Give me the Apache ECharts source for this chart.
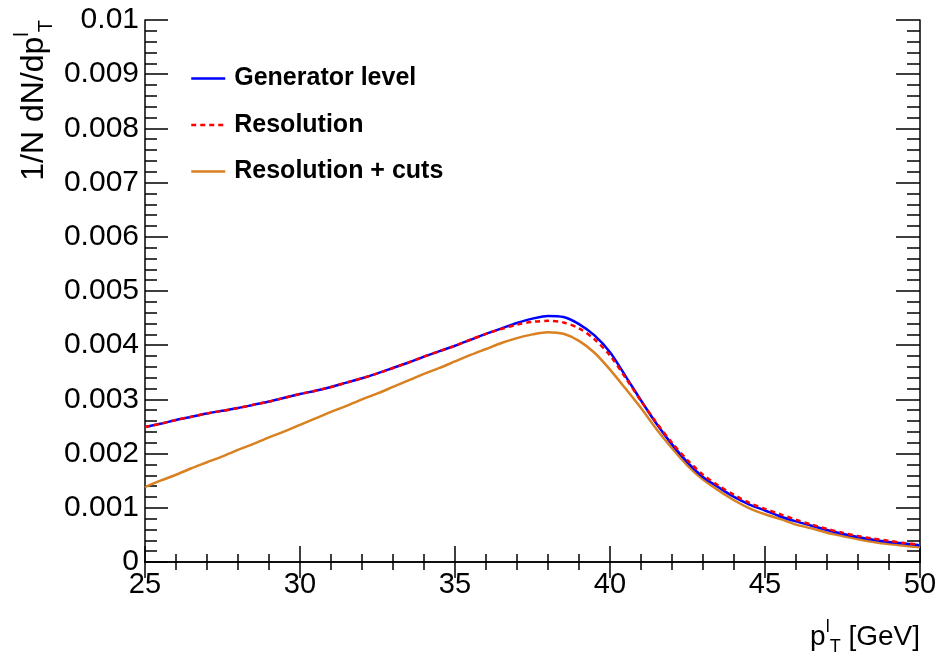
<!DOCTYPE html>
<html>
<head>
<meta charset="utf-8">
<script src="https://cdn.jsdelivr.net/npm/echarts@6/dist/echarts.min.js"></script>
<style>html,body{margin:0;padding:0;background:#fff;}#c{width:939px;height:659px;}</style>
</head>
<body>
<div id="c"></div>
<script>
const pT = [25,25.5,26,26.5,27,27.5,28,28.5,29,29.5,30,30.5,31,31.5,32,32.5,33,33.5,34,34.5,35,35.5,36,36.5,37,37.5,38,38.5,39,39.5,40,40.5,41,41.5,42,42.5,43,43.5,44,44.5,45,45.5,46,46.5,47,47.5,48,48.5,49,49.5,50];
const generatorLevel = [0.00249,0.00255,0.00262,0.00268,0.00274,0.00279,0.00284,0.00290,0.00296,0.00303,0.00310,0.00316,0.00323,0.00331,0.00339,0.00348,0.00358,0.00368,0.00379,0.00389,0.00399,0.00410,0.00421,0.00431,0.00441,0.00449,0.00454,0.00452,0.00439,0.00418,0.00387,0.00343,0.00298,0.00255,0.00217,0.00184,0.00157,0.00138,0.00120,0.00106,0.00095,0.00084,0.00075,0.00067,0.00059,0.00052,0.00046,0.00041,0.00037,0.00034,0.00031];
const resolution = [0.00249,0.00255,0.00262,0.00268,0.00274,0.00279,0.00284,0.00290,0.00296,0.00303,0.00310,0.00316,0.00323,0.00331,0.00339,0.00348,0.00358,0.00368,0.00379,0.00389,0.00399,0.00410,0.00421,0.00430,0.00438,0.00443,0.00445,0.00442,0.00431,0.00411,0.00381,0.00340,0.00297,0.00257,0.00220,0.00188,0.00161,0.00141,0.00124,0.00109,0.00098,0.00088,0.00078,0.00069,0.00061,0.00054,0.00048,0.00043,0.00039,0.00035,0.00032];
const resolutionCuts = [0.00138,0.00150,0.00161,0.00173,0.00184,0.00195,0.00207,0.00218,0.00230,0.00241,0.00253,0.00265,0.00277,0.00288,0.00300,0.00311,0.00323,0.00335,0.00347,0.00358,0.00370,0.00382,0.00393,0.00404,0.00413,0.00420,0.00424,0.00421,0.00408,0.00386,0.00355,0.00320,0.00284,0.00245,0.00210,0.00178,0.00152,0.00132,0.00114,0.00099,0.00088,0.00079,0.00069,0.00062,0.00054,0.00048,0.00042,0.00037,0.00033,0.00030,0.00027];
const seriesNames = ['Generator level','Resolution','Resolution + cuts'];
const xTicks = {min:25, max:50, interval:5};
const yTicks = {min:0, max:0.01, interval:0.001};

const pairs = arr => pT.map((x,i)=>[x, arr[i]]);
const FONT = 'Liberation Sans, Arial, Helvetica, sans-serif';
const chart = echarts.init(document.getElementById('c'), null, {renderer:'canvas'});

const axisCommon = {
  axisLine:{show:true, lineStyle:{color:'#000', width:1.5}},
  splitLine:{show:false},
};
const fmtY = v => v===0 ? '0' : v.toFixed(3).replace(/0+$/,'');

chart.setOption({
  animation:false,
  backgroundColor:'#fff',
  grid:{left:145, right:19, top:20, bottom:97, outerBoundsMode:'none'},
  legend:{
    data:[seriesNames[0], seriesNames[1], seriesNames[2]],
    orient:'vertical', left:190, top:66, padding:0,
    itemWidth:34, itemHeight:24, itemGap:21.5,
    itemStyle:{opacity:0},
    lineStyle:{width:2.5},
    textStyle:{fontFamily:FONT, fontWeight:'bold', fontSize:25, color:'#000', lineHeight:24, padding:[0,0,0,4]}
  },
  xAxis:[
    Object.assign({type:'value', min:xTicks.min, max:xTicks.max, interval:xTicks.interval, position:'bottom',
      axisTick:{show:true, inside:true, length:16, lineStyle:{color:'#000', width:1.5}},
      minorTick:{show:true, splitNumber:5, length:8, lineStyle:{color:'#000', width:1.5}},
      axisLabel:{show:true, margin:8, fontFamily:FONT, fontSize:29, color:'#000', showMinLabel:true, showMaxLabel:true}
    }, axisCommon),
    Object.assign({type:'value', min:xTicks.min, max:xTicks.max, interval:xTicks.interval, position:'top',
      axisTick:{show:true, inside:true, length:16, lineStyle:{color:'#000', width:1.5}},
      minorTick:{show:true, splitNumber:5, length:8, lineStyle:{color:'#000', width:1.5}},
      axisLabel:{show:false}
    }, axisCommon)
  ],
  yAxis:[
    Object.assign({type:'value', min:yTicks.min, max:yTicks.max, interval:yTicks.interval, position:'left',
      axisTick:{show:true, inside:true, length:23, lineStyle:{color:'#000', width:1.5}},
      minorTick:{show:true, splitNumber:5, length:12, lineStyle:{color:'#000', width:1.5}},
      axisLabel:{show:true, margin:6, fontFamily:FONT, fontSize:30, color:'#000', formatter:fmtY, showMinLabel:true, showMaxLabel:true}
    }, axisCommon),
    Object.assign({type:'value', min:yTicks.min, max:yTicks.max, interval:yTicks.interval, position:'right',
      axisTick:{show:true, inside:true, length:24, lineStyle:{color:'#000', width:1.5}},
      minorTick:{show:true, splitNumber:5, length:13, lineStyle:{color:'#000', width:1.5}},
      axisLabel:{show:false}
    }, axisCommon)
  ],
  series:[
    {name:seriesNames[2], type:'line', data:pairs(resolutionCuts), smooth:0.3, symbol:'none', z:2,
      lineStyle:{color:'#d98020', width:2.5}, itemStyle:{color:'#d98020'}},
    {name:seriesNames[0], type:'line', data:pairs(generatorLevel), smooth:0.3, symbol:'none', z:3,
      lineStyle:{color:'#0000ff', width:2.5}, itemStyle:{color:'#0000ff'}},
    {name:seriesNames[1], type:'line', data:pairs(resolution), smooth:0.3, symbol:'none', z:4,
      lineStyle:{color:'#ff0000', width:2.5, type:[5,4]}, itemStyle:{color:'#ff0000'}}
  ],
  graphic:[
    {type:'text', x:34, y:20, rotation:Math.PI/2, z:10,
      style:{text:'{m|1/N dN/dp}{sup|l}{sub|T}', align:'right', verticalAlign:'middle', fill:'#000',
        rich:{
          m:{fontFamily:FONT, fontSize:32, lineHeight:44, fill:'#000'},
          sup:{fontFamily:FONT, fontSize:20, verticalAlign:'top', lineHeight:20, fill:'#000'},
          sub:{fontFamily:FONT, fontSize:20, verticalAlign:'bottom', lineHeight:20, fill:'#000'}
        }}},
    {type:'text', x:920, y:637, z:10,
      style:{text:'{m|p}{sup|l}{sub|T}{m| [GeV]}', align:'right', verticalAlign:'middle', fill:'#000',
        rich:{
          m:{fontFamily:FONT, fontSize:28, lineHeight:38, fill:'#000'},
          sup:{fontFamily:FONT, fontSize:18, verticalAlign:'top', lineHeight:18, fill:'#000'},
          sub:{fontFamily:FONT, fontSize:18, verticalAlign:'bottom', lineHeight:18, fill:'#000'}
        }}}
  ]
});
</script>
</body>
</html>
